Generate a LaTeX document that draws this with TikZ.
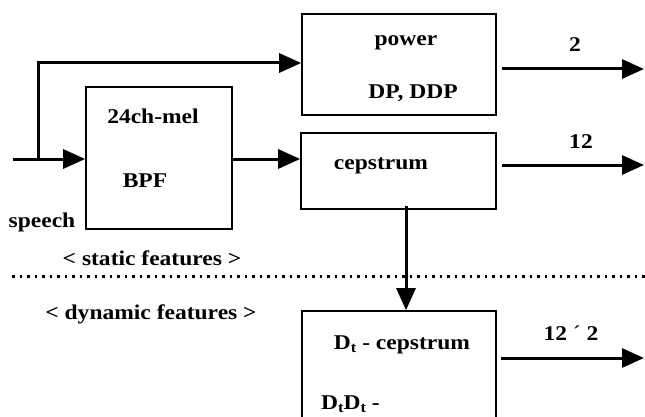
\documentclass[tikz,border=0pt]{standalone}
\usepackage{fontspec}
\setmainfont[FakeStretch=1.12]{Liberation Serif}
\usetikzlibrary{arrows.meta}
\begin{document}
\begin{tikzpicture}[x=1pt,y=-1pt,
  blk/.style={draw,line width=1.6pt,inner sep=0pt},
  lbl/.style={font=\fontsize{21}{23}\selectfont\bfseries,inner sep=0pt,anchor=base},
  conn/.style={line width=3pt,-{Triangle[length=22pt,width=19pt]}}]
\useasboundingbox (0,0) rectangle (645,417);
% boxes
\node[blk,minimum width=146pt,minimum height=142pt] (bpf) at (159,158) {};
\node[blk,minimum width=194pt,minimum height=101pt] (power) at (399,64.5) {};
\node[blk,minimum width=195pt,minimum height=76pt] (ceps) at (398.5,171) {};
\node[blk,minimum width=194pt,minimum height=140pt] (delta) at (399,381) {};
% texts
\node[lbl] (t24) at (153,124) {24ch-mel};
\node[lbl] (tbpf) at (145,187) {BPF};
\node[lbl] (tpow) at (406,46) {power};
\node[lbl] (tdp) at (413,99) {DP, DDP};
\node[lbl] (tceps) at (381,169) {cepstrum};
\node[lbl] (tdc) at (402,349) {D$_{\mathbf t}$ - cepstrum};
\node[lbl,anchor=base west] (tdd) at (321,409) {D$_{\mathbf t}$D$_{\mathbf t}$ -};
\node[lbl] (tsp) at (42,227) {speech};
\node[lbl] (tst) at (152,265) {< static features >};
\node[lbl] (tdy) at (151,319) {< dynamic features >};
\node[lbl] (t2) at (575,52) {2};
\node[lbl] (t12) at (581,149) {12};
\node[lbl] (t122) at (571,340) {12 \textmd{´} 2};
% coordinates
\coordinate (in) at (13,159);
\coordinate (br) at (38,159);
\coordinate (top) at (38,63);
\coordinate (po1) at (502,69);
\coordinate (po2) at (644,69);
\coordinate (co1) at (502,165);
\coordinate (co2) at (644,165);
\coordinate (do1) at (501,358);
\coordinate (do2) at (644,358);
\coordinate (dl1) at (12,276);
\coordinate (dl2) at (645,276);
% connectors
\draw[conn] (in) -- (in -| bpf.west);
\draw[conn] (br) -- (top) -- (top -| power.west);
\draw[conn] (bpf.east |- in) -- (in -| ceps.west);
\draw[conn] (po1) -- (po2);
\draw[conn] (co1) -- (co2);
\draw[conn] ([yshift=4pt]ceps.south -| 406,0) -- (406,0 |- delta.north);
\draw[conn] (do1) -- (do2);
\draw[line width=3pt,dash pattern=on 2.5pt off 5pt] (dl1) -- (dl2);
\end{tikzpicture}
\end{document}
